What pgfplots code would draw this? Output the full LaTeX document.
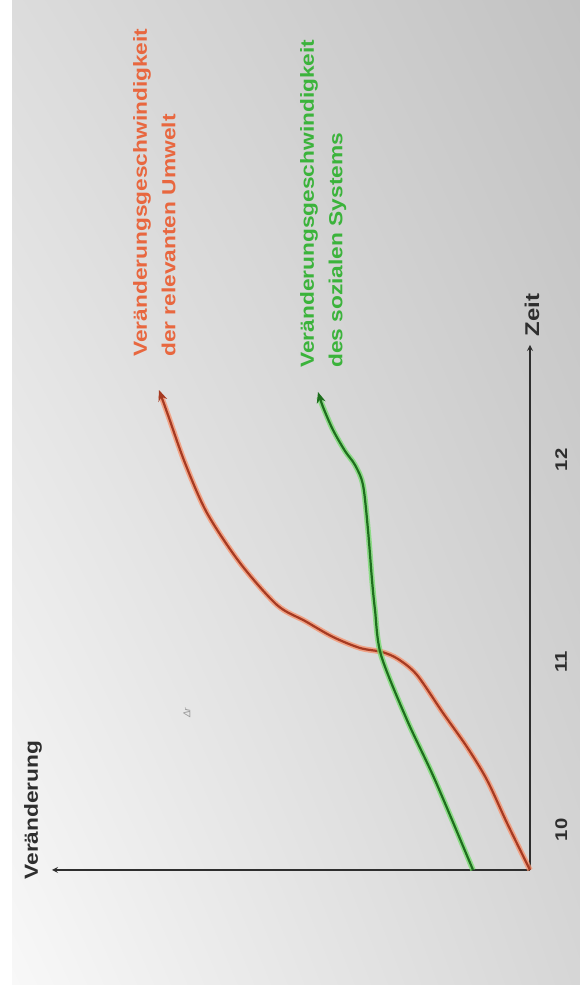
\documentclass[border=0pt]{standalone}
\usepackage{fontspec}
\setmainfont{Liberation Sans}
\usepackage{pgfplots}
\pgfplotsset{compat=1.18}
\usetikzlibrary{arrows.meta,shadings}
\definecolor{redcore}{HTML}{A63A22}
\definecolor{redhalo}{HTML}{F7906A}
\definecolor{greencore}{HTML}{1E6E1E}
\definecolor{greenhalo}{HTML}{74DC6C}
\definecolor{redtext}{HTML}{E8673F}
\definecolor{greentext}{HTML}{3BB33B}
\definecolor{axiscol}{HTML}{2E2E2E}
\definecolor{bgUL}{HTML}{DCDCDC}
\definecolor{bgUR}{HTML}{C2C2C2}
\definecolor{bgLL}{HTML}{F8F8F8}
\definecolor{bgLR}{HTML}{D6D6D6}
\begin{document}
\begin{tikzpicture}[x=1bp,y=1bp]
\useasboundingbox (0,0) rectangle (580,993);
\fill[white] (0,0) rectangle (580,993);
\shade[upper left=bgUL, upper right=bgUR, lower left=bgLL, lower right=bgLR] (12,8) rectangle (580,993);
\begin{axis}[
  at={(52bp,123bp)}, anchor=south west,
  scale only axis, width=478bp, height=525bp,
  x dir=reverse,
  xmin=0, xmax=478, ymin=0, ymax=525,
  axis x line=bottom, axis y line=right,
  axis line style={line width=1.6bp, draw=axiscol},
  every inner x axis line/.append style={-{Latex[length=9bp,width=6bp]}},
  every inner y axis line/.append style={-{Latex[length=9bp,width=6bp]}},
  xtick=\empty,
  ytick={40,208,410}, yticklabels={10,11,12},
  major tick length=0pt,
  yticklabel style={font=\bfseries\fontsize{17}{17}\selectfont, text=axiscol, rotate=90, xscale=1.2, anchor=north, inner sep=0pt, yshift=-25bp},
  clip=false,
]
\addplot[smooth, line width=5.5bp, color=redhalo, opacity=0.75] coordinates {
(0,0) (23,47) (43,90) (63,123) (87,157) (113,195) (132,211) (148,218) (170,222) (197,233) (225,249) (253,265) (290,307) (323,357) (345,407) (362,455) (369,474)};
\addplot[smooth, line width=2.2bp, color=redcore, -{Stealth[length=11bp,width=9bp]}] coordinates {
(0,0) (23,47) (43,90) (63,123) (87,157) (113,195) (132,211) (148,218) (170,222) (197,233) (225,249) (253,265) (290,307) (323,357) (345,407) (362,455) (371,480)};
\addplot[smooth, line width=5.5bp, color=greenhalo, opacity=0.75] coordinates {
(57,0) (95,90) (123,150) (149,215) (155,260) (158,290) (162,340) (167,385) (175,405) (185,419) (197,440) (207,463) (211,473)};
\addplot[smooth, line width=2.2bp, color=greencore, -{Stealth[length=11bp,width=9bp]}] coordinates {
(57,0) (95,90) (123,150) (149,215) (155,260) (158,290) (162,340) (167,385) (175,405) (185,419) (197,440) (207,463) (212,478)};
\end{axis}
\node[rotate=90, xscale=1.2, inner sep=0pt, text=axiscol, font=\bfseries\fontsize{19}{19}\selectfont] at (33,183) {Veränderung};
\node[rotate=90, xscale=1.2, inner sep=0pt, text=axiscol, font=\bfseries\fontsize{20}{20}\selectfont] at (532,678) {Zeit};
\node[rotate=90, xscale=1.2, anchor=north west, inner sep=0pt, align=left, text=redtext, font=\bfseries\fontsize{19}{28.5}\selectfont] at (133,636) {Veränderungsgeschwindigkeit\\der relevanten Umwelt};
\node[rotate=90, xscale=1.2, anchor=north west, inner sep=0pt, align=left, text=greentext, font=\bfseries\fontsize{19}{28.5}\selectfont] at (300,625) {Veränderungsgeschwindigkeit\\des sozialen Systems};
\node[rotate=90, inner sep=0pt, text=black!40, font=\itshape\fontsize{10}{10}\selectfont] at (187,280) {Δr};
\end{tikzpicture}
\end{document}
